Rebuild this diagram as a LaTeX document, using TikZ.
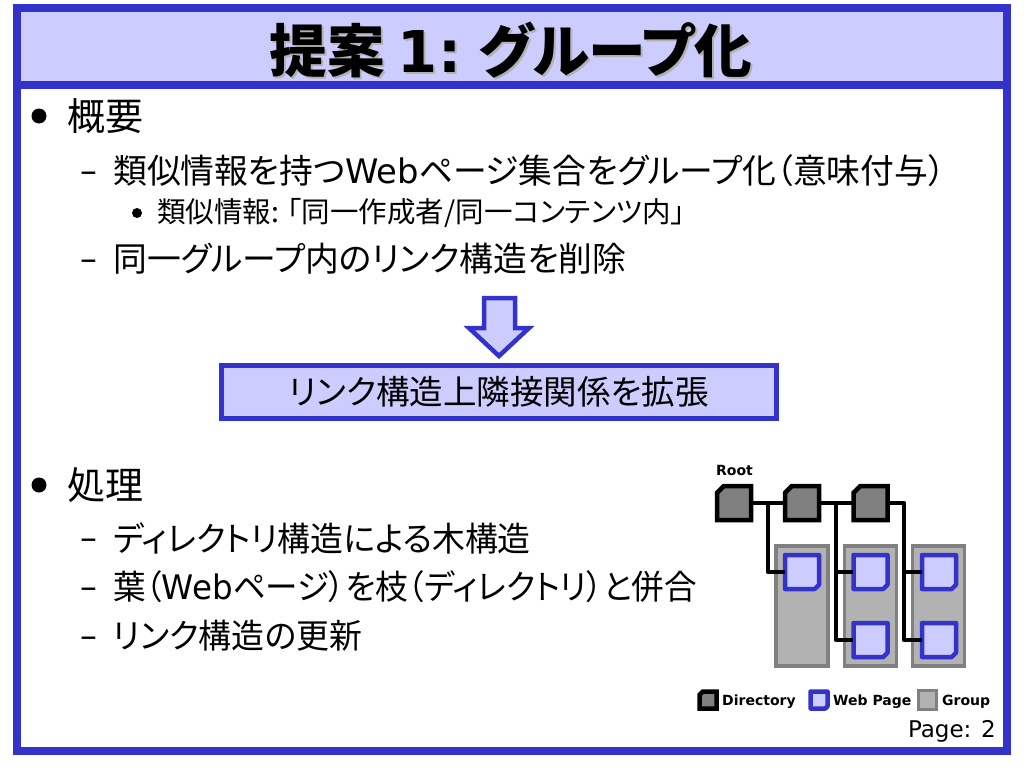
\documentclass[tikz,border=0pt]{standalone}
\usepackage{graphicx}
\usepackage{fontspec}
\setmainfont[RawFeature=+palt]{Noto Sans CJK JP}
\newfontfamily\lat{DejaVu Sans}
\definecolor{frameblue}{HTML}{3333CC}
\definecolor{paleblue}{HTML}{CCCCFF}
\definecolor{dirgray}{HTML}{808080}
\definecolor{groupgray}{HTML}{B2B2B2}
\tikzset{
  framebox/.style={draw=frameblue,line width=8pt},
  item/.style={anchor=west,inner sep=0pt,text=black},
  lone/.style={item,font=\fontsize{38}{44}\selectfont},
  ltwo/.style={item,font=\fontsize{33.8}{40}\selectfont},
  lthree/.style={item,font=\fontsize{28.5}{34}\selectfont},
  bulletdot/.style={circle,fill=black,inner sep=0pt},
  treeline/.style={line width=4.5pt,black,line join=round},
  small/.style={item,font=\lat\bfseries\fontsize{14}{16}\selectfont},
  anchorbox/.style={inner sep=0pt,minimum size=34pt},
}
% directory icon: chamfer top-left
\newcommand{\dirshape}[4]{% name, cx, cy, half
  \fill[dirgray,draw=black,line width=4.5pt,line join=miter]
    (#2-#4,#3+#4) -- (#2-#4,#3-#4+0.4*#4) -- (#2-#4+0.4*#4,#3-#4) -- (#2+#4,#3-#4) -- (#2+#4,#3+#4) -- cycle;
  \node[anchorbox,minimum size=2*#4] (#1) at (#2,#3) {};
}
% page icon: chamfer bottom-right
\newcommand{\pageshape}[4]{%
  \fill[paleblue,draw=frameblue,line width=4.5pt,line join=round]
    (#2-#4,#3-#4) -- (#2+#4,#3-#4) -- (#2+#4,#3+#4-0.25*#4) -- (#2+#4-0.25*#4,#3+#4) -- (#2-#4,#3+#4) -- cycle;
  \node[anchorbox,minimum size=2*#4] (#1) at (#2,#3) {};
}
\newcommand{\groupshape}[5]{% name, x0,y0,x1,y1
  \node[draw=dirgray,fill=groupgray,line width=3.5pt,inner sep=0pt,
        minimum width=#4-#2,minimum height=#5-#3] (#1) at ({(#2+#4)/2},{(#3+#5)/2}) {};
}
\begin{document}
\begin{tikzpicture}[x=1pt,y=-1pt]
\useasboundingbox (0,0) rectangle (1024,768);
\fill[white] (0,0) rectangle (1024,768);
% frames
\draw[framebox] (17,85) rectangle (1007,751);
\draw[framebox,fill=paleblue] (17,8.5) rectangle (1007,85);
% title
\newcommand{\titletext}{\bfseries 提案 {\lat 1:} グループ化}
\node[inner sep=0pt,text=black!30,font=\fontsize{57.6}{64}\selectfont] (titleshadow) at (513,52) {\titletext};
\node[inner sep=0pt,font=\fontsize{57.6}{64}\selectfont] (title) at (511,50) {\titletext};
% bullets
\node[bulletdot,minimum size=15pt] (b1) at (39,116) {};
\node[lone] (t1) at (67,116) {概要};
\node[ltwo] (d1) at (80,177) {\lat –};
\node[ltwo] (t2) at (113,171) {類似情報を持つ{\lat Web}ページ集合をグループ化（意味付与）};
\node[bulletdot,minimum size=10pt] (b2) at (137,213) {};
\node[lthree] (t3) at (157,213) {類似情報: 「同一作成者/同一コンテンツ内」};
\node[ltwo] (d2) at (80,265) {\lat –};
\node[ltwo] (t4) at (113,259) {同一グループ内のリンク構造を削除};
% arrow
\draw[draw=frameblue,fill=paleblue,line width=4.5pt,line join=miter]
  (484,298) -- (515,298) -- (515,328) -- (529,328) -- (499,356) -- (469,328) -- (484,328) -- cycle;
\node[draw=frameblue,fill=paleblue,line width=5pt,inner sep=0pt,minimum width=555pt,minimum height=53pt,
      font=\fontsize{33.5}{40}\selectfont] (result) at (499,392) {リンク構造上隣接関係を拡張};
% second block
\node[bulletdot,minimum size=15pt] (b3) at (39,485) {};
\node[lone] (t5) at (67,485) {処理};
\node[ltwo] (d3) at (80,544) {\lat –};
\node[ltwo] (t6) at (113,538) {\scalebox{0.972}[1]{ディレクトリ構造による木構造}};
\node[ltwo] (d4) at (80,593) {\lat –};
\node[ltwo] (t7) at (113,587) {\scalebox{0.962}[1]{葉（{\lat Web}ページ）を枝（ディレクトリ）と併合}};
\node[ltwo] (d5) at (80,642) {\lat –};
\node[ltwo] (t8) at (113,636) {\scalebox{0.973}[1]{リンク構造の更新}};
% tree: groups
\groupshape{g1}{776}{546}{828}{666}
\groupshape{g2}{844.5}{546}{896.5}{666}
\groupshape{g3}{912.5}{546}{964.5}{666}
% tree nodes
\pageshape{p1}{802}{572}{17}
\pageshape{p2}{870.5}{572}{17}
\pageshape{p3}{870.5}{640}{17}
\pageshape{p4}{939}{572}{17}
\pageshape{p5}{939}{640}{17}
\coordinate (j1) at (768,503);
\coordinate (j2) at (836,503);
\coordinate (j3) at (904,503);
% connectors
\dirshape{r0}{734}{503}{17}
\dirshape{r1}{802}{503}{17}
\dirshape{r2}{870.5}{503}{17}
\draw[treeline] (r0.east) -- (r1.west);
\draw[treeline] (r1.east) -- (r2.west);
\draw[treeline] (r2.east) -- (j3) |- (p5.west);
\draw[treeline] (j1) |- (p1.west);
\draw[treeline] (j2) |- (p3.west);
\draw[treeline] (j2 |- p2.west) -- (p2.west);
\draw[treeline] (j3 |- p4.west) -- (p4.west);
\node[small] (root) at (716,470) {Root};
% legend
\dirshape{ld}{708}{700}{8.5}
\node[small] (ldt) at (722,701.5) {Directory};
\pageshape{lp}{819}{700}{8.5}
\node[small] (lpt) at (833,701.5) {Web Page};
\groupshape{lg}{918.5}{690.5}{936.5}{709.5}
\node[small] (lgt) at (942,701.5) {Group};
\node[anchor=east,inner sep=0pt,font=\lat\fontsize{23}{26}\selectfont] (pg) at (996,731) {Page: 2};
\end{tikzpicture}
\end{document}
